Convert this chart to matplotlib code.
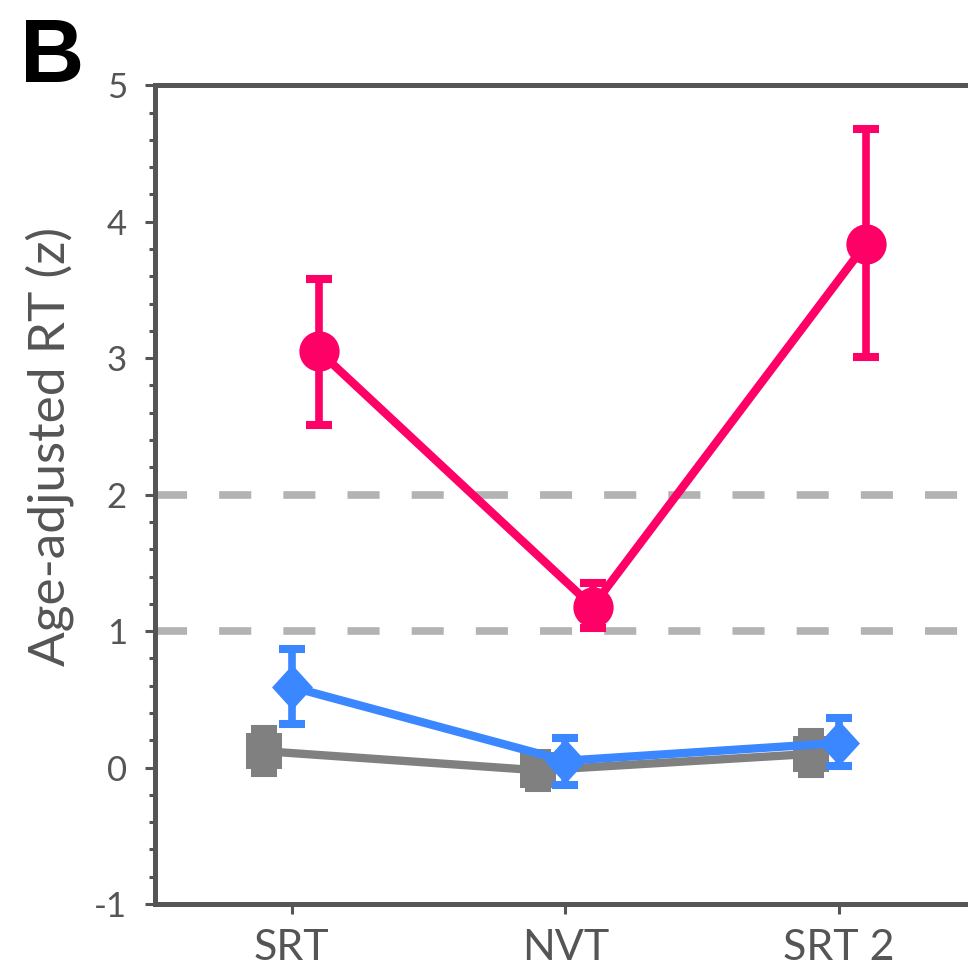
import matplotlib
matplotlib.use("Agg")
import matplotlib.pyplot as plt
from matplotlib.ticker import MultipleLocator

plt.rcParams["font.family"] = ["Lato", "DejaVu Sans"]
plt.rcParams["axes.unicode_minus"] = False

# data
tasks = ["SRT", "NVT", "SRT 2"]

pink_mean = [3.05, 1.18, 3.84]
pink_lo = [2.51, 1.02, 3.01]
pink_hi = [3.58, 1.35, 4.68]

blue_mean = [0.59, 0.05, 0.18]
blue_lo = [0.32, -0.13, 0.01]
blue_hi = [0.87, 0.22, 0.36]

gray_mean = [0.12, -0.02, 0.10]
gray_lo = [-0.04, -0.15, -0.05]
gray_hi = [0.28, 0.11, 0.26]

cutoffs = [1, 2]

PINK = "#ff0066"
BLUE = "#3a87ff"
GRAY = "#808080"
AXC = "#555555"

x = list(range(len(tasks)))

fig = plt.figure(figsize=(9.68, 9.76), dpi=100)
ax = fig.add_axes([155 / 968, 1 - 904 / 976, 820.5 / 968, 818.7 / 976])

for c in cutoffs:
    ax.axhline(c, color="#b3b3b3", lw=5.5, dashes=(4.2, 4.2), zorder=1)


def series(vals, lo, hi, offset, color, marker, ms, z):
    xs = [i + offset for i in x]
    err = [[v - l for v, l in zip(vals, lo)], [h - v for v, h in zip(vals, hi)]]
    ax.errorbar(xs, vals, yerr=err, fmt="none", ecolor=color, elinewidth=5.5,
                capsize=9.7, capthick=5.8, zorder=z)
    ax.plot(xs, vals, color=color, lw=6, marker=marker, ms=ms,
            markeredgewidth=0, zorder=z + 0.5)


diamond = [(-0.91, 0), (0, 1), (0.91, 0), (0, -1)]
series(gray_mean, gray_lo, gray_hi, -0.1, GRAY, "s", 26, 2)
series(blue_mean, blue_lo, blue_hi, 0.0, BLUE, diamond, 32.4, 3)
series(pink_mean, pink_lo, pink_hi, 0.1, PINK, "o", 29, 4)

ax.set_xlim(-0.5, 2.5)
ax.set_ylim(-1, 5)
ax.set_xticks(x)
ax.set_xticklabels(tasks)
ax.yaxis.set_major_locator(MultipleLocator(1))
ax.yaxis.set_minor_locator(MultipleLocator(0.2))

for side in ["left", "bottom", "top"]:
    ax.spines[side].set_color(AXC)
    ax.spines[side].set_linewidth(3.6)
ax.spines["right"].set_visible(False)

ax.tick_params(axis="y", which="major", length=7.2, width=2.2, color=AXC,
               labelcolor=AXC, labelsize=25, pad=13)
ax.tick_params(axis="y", which="minor", length=4.3, width=2.2, color=AXC)
ax.tick_params(axis="x", which="major", length=7.2, width=2.2, color=AXC,
               labelcolor=AXC, labelsize=31, pad=11)

ax.set_ylabel("Age-adjusted RT (z)", fontsize=37, color=AXC, va="baseline")
ax.yaxis.set_label_coords(-0.11, 0.559)

fig.text(20 / 968, 1 - 82 / 976, "B", fontsize=64, fontweight="bold",
         family="Liberation Sans", color="black", va="baseline")

fig.savefig("out.png", dpi=100)
